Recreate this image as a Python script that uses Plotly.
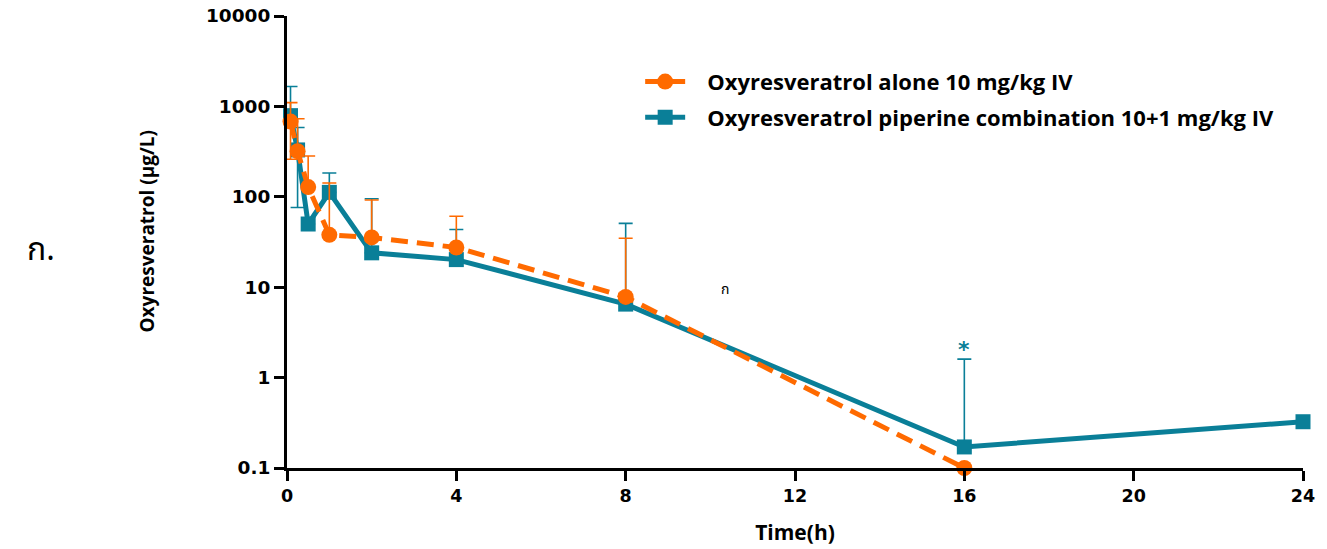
import plotly.graph_objects as go

# Sampling times (h)
time_alone = [0.083, 0.25, 0.5, 1, 2, 4, 8, 16]
time_combo = [0.083, 0.25, 0.5, 1, 2, 4, 8, 16, 24]

# Mean plasma concentrations (µg/L)
conc_alone = [680, 320, 128, 38, 35.5, 27.5, 7.8, 0.1]
conc_combo = [790, 330, 50, 112, 24, 20.2, 6.5, 0.171, 0.325]

# Error bars (µg/L)
err_alone_up = [420, 411, 155, 104, 56.5, 33.5, 27, 0]
err_alone_down = [420, 0, 0, 0, 0, 0, 0, 0]
err_combo_up = [870, 254, 0, 71, 71, 23.3, 44.3, 1.43, 0]
err_combo_down = [0, 254, 0, 0, 0, 0, 0, 0, 0]

# Axis ticks
x_ticks = [0, 4, 8, 12, 16, 20, 24]
y_ticks = [0.1, 1, 10, 100, 1000, 10000]
y_tick_text = ["0.1", "1", "10", "100", "1000", "10000"]

ORANGE = "#ff6a00"
TEAL = "#0a7f98"
LABEL_FONT = "Open Sans, Lato, sans-serif"
THAI_FONT = "Noto Sans Thai, Noto Sans, DejaVu Sans"
PAD = "\u00a0\u00a0\u00a0"  # gap between legend symbol and label

fig = go.Figure()

fig.add_trace(go.Scatter(
    x=time_combo, y=conc_combo,
    name=PAD + "Oxyresveratrol piperine combination 10+1 mg/kg IV",
    mode="lines+markers",
    line=dict(color=TEAL, width=5),
    marker=dict(symbol="square", size=15, color=TEAL),
    error_y=dict(type="data", array=err_combo_up, arrayminus=err_combo_down,
                 color=TEAL, thickness=1.6, width=7),
    cliponaxis=False, legendgroup="b", legendrank=2,
))

fig.add_trace(go.Scatter(
    x=time_alone, y=conc_alone,
    name=PAD + "Oxyresveratrol alone 10 mg/kg IV",
    mode="lines+markers",
    line=dict(color=ORANGE, width=5, dash="17px,9px"),
    marker=dict(symbol="circle", size=16, color=ORANGE),
    error_y=dict(type="data", array=err_alone_up, arrayminus=err_alone_down,
                 color=ORANGE, thickness=1.6, width=7),
    cliponaxis=False, legendgroup="a", legendrank=1,
))

fig.update_layout(
    width=1327, height=549,
    margin=dict(l=287, r=24, t=16, b=81),
    plot_bgcolor="white", paper_bgcolor="white",
    showlegend=True,
    legend=dict(
        x=0.3476, y=0.901, xanchor="left", yanchor="top",
        font=dict(family=LABEL_FONT, size=22, color="black", weight="bold"),
        traceorder="grouped", tracegroupgap=4, itemwidth=40,
        bgcolor="rgba(0,0,0,0)",
    ),
    xaxis=dict(
        range=[0, 24], tickvals=x_ticks, ticktext=[str(v) for v in x_ticks],
        showgrid=False, zeroline=False, automargin=False,
        showline=True, linecolor="black", linewidth=3,
        ticks="outside", ticklen=10, tickwidth=3, tickcolor="black",
        tickfont=dict(family="DejaVu Sans", size=17.5, color="black", weight="bold"),
        title=dict(text="Time(h)", standoff=21,
                   font=dict(family=LABEL_FONT, size=21, color="black", weight="bold")),
    ),
    yaxis=dict(
        type="log", range=[-1, 4], tickvals=y_ticks, ticktext=y_tick_text,
        showgrid=False, zeroline=False, automargin=False,
        showline=True, linecolor="black", linewidth=3,
        ticks="outside", ticklen=10, tickwidth=3, tickcolor="black",
        tickfont=dict(family="DejaVu Sans", size=18.5, color="black", weight="bold"),
    ),
    annotations=[
        dict(text="Oxyresveratrol (μg/L)", x=-0.1379, y=0.523,
             xref="paper", yref="paper", textangle=-90,
             showarrow=False, xanchor="center", yanchor="middle",
             font=dict(family=LABEL_FONT, size=19, color="black", weight="bold")),
        dict(text="ก.", x=-0.258, y=0.482, xref="paper", yref="paper",
             showarrow=False, xanchor="left", yanchor="middle",
             font=dict(family=THAI_FONT, size=32, color="black")),
        dict(text="ก", x=10.35, y=0.97, xref="x", yref="y",
             showarrow=False,
             font=dict(family=THAI_FONT, size=14, color="black")),
        dict(text="*", x=16, y=0.31, xref="x", yref="y",
             showarrow=False,
             font=dict(family="DejaVu Sans", size=22, color=TEAL, weight="bold")),
    ],
)

fig.write_html("out.html")
